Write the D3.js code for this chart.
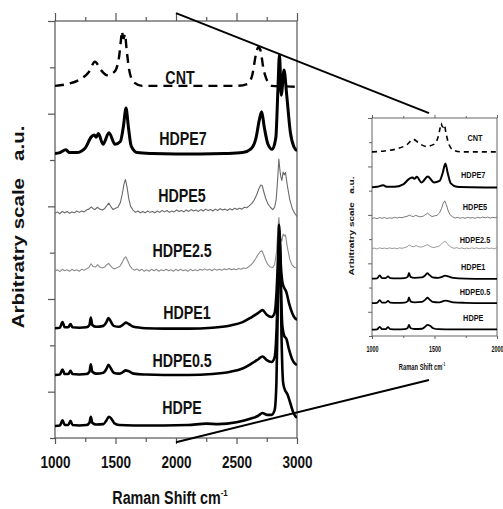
<!DOCTYPE html>
<html>
<head>
<meta charset="utf-8">
<script src="https://cdn.jsdelivr.net/npm/d3@7"></script>
<style>
  body { margin: 0; background: #fff; }
  text { font-family: "Liberation Sans", Arial, sans-serif; font-weight: bold; fill: #111; }
</style>
</head>
<body>
<svg id="chart" width="503" height="509"></svg>
<script>
'use strict';

// spectra: [Raman shift cm-1, intensity a.u. (stacked)]
var cntSpec = [[1000, 76.0], [1100, 76.4], [1200, 77.3], [1280, 79.0], [1330, 81.2], [1380, 79.4],
  [1430, 78.3], [1490, 79.0], [1525, 81.5], [1545, 85.9], [1553, 87.8], [1561, 86.6], [1569, 86.3],
  [1578, 87.2], [1592, 83.8], [1612, 79.6], [1650, 76.8], [1720, 76.0], [2000, 76.0], [2300, 76.0],
  [2500, 76.0], [2590, 76.4], [2630, 78.3], [2660, 82.7], [2682, 84.4], [2700, 83.5], [2722, 79.8],
  [2750, 77.3], [2790, 76.0], [2900, 75.9], [3000, 75.8]];

var hdpe7Spec = [[1000, 61.4], [1040, 61.6], [1090, 62.2], [1120, 61.6], [1180, 61.6], [1250, 62.6],
  [1300, 65.0], [1325, 65.4], [1340, 64.9], [1358, 65.7], [1397, 63.4], [1446, 65.9], [1496, 63.4],
  [1540, 64.0], [1565, 67.2], [1587, 71.2], [1607, 67.0], [1630, 63.0], [1680, 61.6], [1800, 61.4],
  [2000, 61.3], [2200, 61.3], [2400, 61.4], [2550, 61.6], [2620, 62.4], [2660, 64.6], [2690, 68.8],
  [2708, 70.4], [2730, 67.0], [2760, 63.4], [2795, 62.3], [2825, 64.8], [2842, 75.0], [2855, 82.7],
  [2870, 74.0], [2893, 79.4], [2915, 74.0], [2945, 66.0], [2975, 62.8], [3000, 62.0]];

var hdpe5Spec = [[1000, 48.5], [1020, 48.8], [1040, 48.4], [1060, 48.9], [1080, 48.6], [1100, 48.9],
  [1120, 48.5], [1140, 48.8], [1160, 48.6], [1180, 49.0], [1200, 48.7], [1220, 49.0], [1240, 48.8],
  [1260, 49.2], [1280, 49.4], [1300, 49.9], [1315, 49.5], [1330, 49.3], [1350, 49.8], [1370, 49.4],
  [1390, 49.2], [1410, 49.5], [1430, 50.2], [1445, 50.7], [1460, 50.0], [1480, 49.3], [1500, 49.6],
  [1520, 49.8], [1540, 50.8], [1555, 52.5], [1570, 54.8], [1582, 55.8], [1595, 54.2], [1610, 51.6],
  [1625, 50.0], [1645, 49.2], [1665, 48.7], [1685, 49.0], [1705, 48.6], [1725, 48.9], [1745, 48.6],
  [1765, 49.0], [1785, 48.7], [1805, 48.9], [1825, 48.6], [1845, 49.0], [1865, 48.7], [1885, 49.1],
  [1905, 48.8], [1925, 49.1], [1945, 48.7], [1965, 49.0], [1985, 48.8], [2005, 49.2], [2025, 48.9],
  [2045, 49.1], [2065, 48.8], [2085, 49.2], [2105, 48.9], [2125, 49.3], [2145, 49.0], [2165, 49.2],
  [2185, 48.9], [2205, 49.3], [2225, 49.0], [2245, 49.4], [2265, 49.1], [2285, 49.3], [2305, 49.0],
  [2325, 49.4], [2345, 49.1], [2365, 49.5], [2385, 49.2], [2405, 49.4], [2425, 49.1], [2445, 49.5],
  [2465, 49.2], [2485, 49.6], [2505, 49.3], [2525, 49.6], [2545, 49.4], [2565, 49.8], [2585, 49.7],
  [2605, 50.1], [2625, 50.6], [2645, 51.3], [2665, 52.4], [2685, 53.8], [2700, 54.6], [2712, 54.5],
  [2725, 53.2], [2740, 51.8], [2760, 50.5], [2780, 49.8], [2800, 49.3], [2815, 49.8], [2828, 51.5],
  [2840, 55.8], [2850, 60.2], [2858, 58.0], [2866, 56.4], [2875, 55.6], [2885, 57.4], [2895, 56.8],
  [2905, 57.3], [2920, 54.5], [2940, 51.5], [2960, 49.6], [2980, 48.5], [3000, 47.8]];

var hdpe25Spec = [[1000, 36.0], [1020, 36.3], [1040, 35.9], [1060, 36.4], [1080, 36.1], [1100, 36.3],
  [1120, 36.0], [1140, 36.4], [1160, 36.1], [1180, 36.3], [1200, 36.0], [1220, 36.4], [1240, 36.2],
  [1260, 36.5], [1280, 36.8], [1298, 37.6], [1315, 37.0], [1335, 36.9], [1352, 37.4], [1370, 36.9],
  [1390, 36.7], [1410, 36.9], [1428, 37.4], [1442, 37.7], [1458, 37.2], [1475, 36.7], [1495, 36.5],
  [1515, 36.8], [1535, 37.0], [1555, 37.9], [1572, 38.8], [1585, 39.1], [1600, 38.3], [1618, 37.2],
  [1638, 36.5], [1658, 36.2], [1678, 36.5], [1698, 36.1], [1718, 36.4], [1738, 36.0], [1758, 36.3],
  [1778, 36.0], [1798, 36.4], [1818, 36.1], [1838, 36.4], [1858, 36.0], [1878, 36.3], [1898, 36.1],
  [1918, 36.4], [1938, 36.1], [1958, 36.3], [1978, 36.0], [1998, 36.4], [2018, 36.1], [2038, 36.4],
  [2058, 36.1], [2078, 36.3], [2098, 36.0], [2118, 36.4], [2138, 36.1], [2158, 36.3], [2178, 36.1],
  [2198, 36.4], [2218, 36.2], [2238, 36.5], [2258, 36.2], [2278, 36.4], [2298, 36.1], [2318, 36.5],
  [2338, 36.2], [2358, 36.4], [2378, 36.2], [2398, 36.5], [2418, 36.3], [2438, 36.6], [2458, 36.3],
  [2478, 36.5], [2498, 36.3], [2518, 36.6], [2538, 36.4], [2558, 36.7], [2578, 36.6], [2598, 36.9],
  [2618, 37.3], [2638, 37.9], [2658, 38.7], [2678, 39.6], [2695, 40.2], [2710, 40.4], [2725, 39.5],
  [2742, 38.3], [2760, 37.4], [2780, 36.9], [2800, 36.8], [2815, 37.4], [2830, 40.0], [2842, 45.0],
  [2850, 47.6], [2857, 45.5], [2866, 43.0], [2875, 42.5], [2885, 44.0], [2895, 43.6], [2905, 43.8],
  [2920, 41.2], [2940, 38.6], [2960, 37.3], [2980, 36.8], [3000, 36.7]];

var hdpe1Spec = [[1000, 23.7], [1040, 23.8], [1062, 25.0], [1080, 23.9], [1110, 23.9], [1128, 24.6],
  [1145, 23.9], [1200, 23.8], [1260, 23.9], [1285, 24.4], [1296, 26.0], [1308, 24.4], [1340, 24.0],
  [1400, 24.2], [1425, 25.0], [1442, 25.9], [1460, 25.2], [1485, 24.2], [1530, 24.0], [1560, 24.4],
  [1585, 24.9], [1610, 24.6], [1650, 24.0], [1750, 23.7], [1900, 23.6], [2100, 23.6], [2300, 23.8],
  [2450, 24.3], [2550, 25.0], [2620, 26.0], [2680, 27.0], [2715, 27.6], [2750, 26.6], [2790, 26.1],
  [2815, 27.0], [2832, 32.0], [2845, 40.0], [2855, 44.5], [2865, 38.0], [2880, 33.5], [2895, 32.4],
  [2912, 31.5], [2935, 29.0], [2960, 27.0], [2985, 25.8], [3000, 25.5]];

var hdpe05Spec = [[1000, 13.6], [1040, 13.7], [1062, 14.8], [1080, 13.8], [1110, 13.8], [1128, 14.5],
  [1145, 13.8], [1200, 13.7], [1260, 13.8], [1285, 14.3], [1296, 15.9], [1308, 14.3], [1340, 13.9],
  [1400, 14.1], [1425, 14.9], [1442, 15.8], [1460, 15.1], [1485, 14.1], [1530, 13.9], [1560, 14.2],
  [1585, 14.6], [1610, 14.4], [1650, 13.9], [1750, 13.7], [1900, 13.6], [2100, 13.6], [2300, 13.8],
  [2450, 14.3], [2550, 15.0], [2620, 16.0], [2680, 17.0], [2715, 17.6], [2750, 16.8], [2790, 16.4],
  [2815, 17.4], [2832, 24.0], [2845, 36.0], [2855, 43.0], [2865, 35.0], [2878, 24.5], [2895, 22.0],
  [2912, 21.4], [2935, 19.0], [2960, 17.0], [2985, 16.0], [3000, 15.8]];

var hdpeSpec = [[1000, 2.6], [1040, 2.7], [1062, 3.8], [1080, 2.8], [1110, 2.8], [1128, 3.7],
  [1145, 2.8], [1200, 2.7], [1260, 2.8], [1285, 3.3], [1296, 4.6], [1308, 3.3], [1340, 2.9],
  [1400, 3.0], [1425, 3.8], [1445, 4.6], [1465, 4.2], [1490, 3.2], [1530, 2.8], [1650, 2.7],
  [1900, 2.7], [2100, 2.8], [2250, 3.1], [2350, 3.0], [2500, 3.4], [2620, 4.2], [2680, 4.8],
  [2715, 5.4], [2750, 5.0], [2790, 5.0], [2815, 6.0], [2830, 12.0], [2842, 30.0], [2852, 46.0],
  [2862, 38.0], [2872, 22.0], [2885, 12.0], [2900, 10.4], [2920, 9.5], [2945, 7.5], [2970, 5.5],
  [2990, 4.6], [3000, 4.5]];

var sampleNames = ['CNT', 'HDPE7', 'HDPE5', 'HDPE2.5', 'HDPE1', 'HDPE0.5', 'HDPE'];
var spectra = [cntSpec, hdpe7Spec, hdpe5Spec, hdpe25Spec, hdpe1Spec, hdpe05Spec, hdpeSpec];

// where each name sits: [shift, intensity]
var mainLabelAt = [[2033, 77.9], [2058, 64.8], [2050, 52.4], [2050, 40.6], [2091, 27.2], [2050, 16.8], [2050, 6.7]];
var insetLabelAt = [[1824, 81.7], [1810, 66.4], [1824, 53.5], [1824, 39.8], [1810, 28.6], [1824, 18.2], [1810, 7.5]];

var yDomain = [0, 90];
var yTicks = d3.range(0, 91, 10);

// zoom guide lines: main panel point -> inset point
var zoomLinks = [
  { from: [2000, 91.7], to: [1456, 92.0] },
  { from: [2000, -0.9], to: [1456, -18.2] }
];

var lineStyle = [
  { color: '#000', w: [2.4, 1.6], dash: ['9,6', '5,4'], smooth: true },
  { color: '#000', w: [3.0, 2.0], dash: null, smooth: true },
  { color: '#6a6a6a', w: [1.1, 0.9], dash: null, smooth: false },
  { color: '#8c8c8c', w: [1.1, 0.9], dash: null, smooth: false },
  { color: '#000', w: [2.6, 1.8], dash: null, smooth: true },
  { color: '#000', w: [2.6, 1.8], dash: null, smooth: true },
  { color: '#000', w: [2.6, 1.8], dash: null, smooth: true }
];

var svg = d3.select('#chart');
var axisColor = '#555';

function squeeze(sel, sx) {
  sel.attr('transform', 'scale(' + sx + ',1)');
}

function drawPanel(p) {
  var x = d3.scaleLinear().domain(p.xDomain).range([p.left, p.right]);
  var y = d3.scaleLinear().domain(yDomain).range([p.bottom, p.top]);
  var g = svg.append('g').attr('class', p.name);
  var xt = d3.range(p.xDomain[0], p.xDomain[1] + 1, 250);
  var isMajor = function (d) { return d % 500 === 0; };

  svg.append('clipPath').attr('id', 'clip-' + p.name)
    .append('rect')
      .attr('x', p.left).attr('y', p.top - 30)
      .attr('width', p.right - p.left).attr('height', p.bottom - p.top + 60);

  // bottom axis with labels
  var bx = g.append('g')
      .attr('transform', 'translate(0,' + p.bottom + ')')
      .call(d3.axisBottom(x).tickValues(xt).tickSizeOuter(0).tickSize(p.bTick[0])
        .tickFormat(function (d) { return isMajor(d) ? d : ''; }));
  bx.select('.domain').remove();
  bx.selectAll('.tick line')
      .attr('stroke', axisColor).attr('stroke-width', p.axisW)
      .attr('y2', function (d) { return isMajor(d) ? p.bTick[0] : p.bTick[1]; });
  bx.selectAll('.tick text')
      .attr('y', p.labelOff).attr('dy', '0.36em')
      .style('font-size', p.tickFont + 'px')
      .call(squeeze, p.sx);

  // top axis, ticks only
  var tx = g.append('g')
      .attr('transform', 'translate(0,' + p.top + ')')
      .call(d3.axisTop(x).tickValues(xt).tickSizeOuter(0).tickSize(p.tTick[0]).tickFormat(''));
  tx.select('.domain').remove();
  tx.selectAll('.tick line')
      .attr('stroke', axisColor).attr('stroke-width', p.axisW)
      .attr('y2', function (d) { return isMajor(d) ? -p.tTick[0] : -p.tTick[1]; });

  // left axis, ticks only
  var ly = g.append('g')
      .attr('transform', 'translate(' + p.left + ',0)')
      .call(d3.axisLeft(y).tickValues(yTicks).tickSizeOuter(0).tickSize(p.lTick[0]).tickFormat(''));
  ly.select('.domain').remove();
  ly.selectAll('.tick line')
      .attr('stroke', axisColor).attr('stroke-width', p.axisW)
      .attr('x2', function (d) { return (d / 10) % 2 ? -p.lTick[0] : -p.lTick[1]; });

  // frame
  g.append('rect')
      .attr('x', p.left).attr('y', p.top)
      .attr('width', p.right - p.left).attr('height', p.bottom - p.top)
      .attr('fill', 'none').attr('stroke', axisColor).attr('stroke-width', p.axisW);

  // spectra
  var lines = g.append('g').attr('clip-path', 'url(#clip-' + p.name + ')');
  spectra.forEach(function (spec, i) {
    var st = lineStyle[i];
    var gen = d3.line()
        .x(function (d) { return x(d[0]); })
        .y(function (d) { return y(d[1]); })
        .curve(st.smooth ? d3.curveMonotoneX : d3.curveLinear);
    lines.append('path')
        .datum(spec)
        .attr('d', gen)
        .attr('fill', 'none')
        .attr('stroke', st.color)
        .attr('stroke-width', st.w[p.k])
        .attr('stroke-linejoin', 'round')
        .attr('stroke-dasharray', st.dash ? st.dash[p.k] : null);
  });

  // sample names
  sampleNames.forEach(function (name, i) {
    var at = p.labelAt[i];
    g.append('text')
        .attr('transform', 'translate(' + x(at[0]) + ',' + y(at[1]) + ') scale(' + p.nameSx + ',1)')
        .attr('dy', '0.36em')
        .attr('text-anchor', 'middle')
        .style('font-size', p.nameFont + 'px')
        .text(name);
  });

  // axis titles
  var xt2 = g.append('text')
      .attr('transform', 'translate(' + p.xTitle[0] + ',' + p.xTitle[1] + ') scale(' + p.sx + ',1)')
      .attr('text-anchor', 'middle')
      .style('font-size', p.titleFont + 'px')
      .text('Raman Shift cm');
  xt2.append('tspan')
      .attr('dy', -p.titleFont * 0.45)
      .style('font-size', (p.titleFont * 0.55) + 'px')
      .text('-1');

  g.append('text')
      .attr('transform', 'translate(' + p.yTitle[0] + ',' + p.yTitle[1] + ') scale(' + p.ySx + ',1) rotate(-90)')
      .attr('dy', '0.36em')
      .attr('text-anchor', 'middle')
      .style('font-size', p.yFont + 'px')
      .style('white-space', 'pre')
      .text('Arbitratry scale   a.u.');

  return { x: x, y: y };
}

var main = drawPanel({
  name: 'main', k: 0, xDomain: [1000, 3000],
  left: 55, right: 297, top: 21, bottom: 438, axisW: 1.2,
  bTick: [6, 4], tTick: [8, 4], lTick: [7, 5],
  labelOff: 24, tickFont: 16.5, sx: 0.82,
  labelAt: mainLabelAt, nameFont: 19, nameSx: 0.75,
  xTitle: [170, 504], titleFont: 17.5,
  yTitle: [18, 227], yFont: 20.5, ySx: 0.78
});

var inset = drawPanel({
  name: 'inset', k: 1, xDomain: [1000, 2000],
  left: 372, right: 497, top: 118, bottom: 336, axisW: 0.9,
  bTick: [3, 2], tTick: [3, 2], lTick: [4, 3],
  labelOff: 13, tickFont: 8.4, sx: 0.64,
  labelAt: insetLabelAt, nameFont: 8.6, nameSx: 0.85,
  xTitle: [422, 370], titleFont: 9, 
  yTitle: [352, 226], yFont: 10, ySx: 0.65
});

svg.append('g').attr('class', 'zoom-links')
  .selectAll('line')
  .data(zoomLinks)
  .enter().append('line')
    .attr('x1', function (d) { return main.x(d.from[0]); })
    .attr('y1', function (d) { return main.y(d.from[1]); })
    .attr('x2', function (d) { return inset.x(d.to[0]); })
    .attr('y2', function (d) { return inset.y(d.to[1]); })
    .attr('stroke', '#000')
    .attr('stroke-width', 2);
</script>
</body>
</html>
